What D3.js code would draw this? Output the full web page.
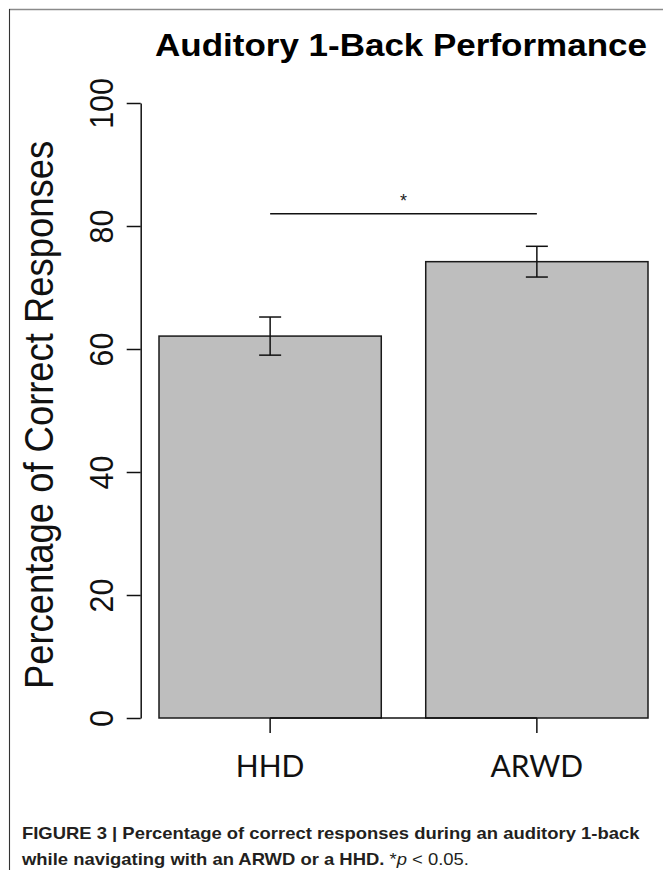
<!DOCTYPE html>
<html>
<head>
<meta charset="utf-8">
<script src="https://cdn.jsdelivr.net/npm/d3@7"></script>
<style>
  body { margin: 0; background: #fff; }
  svg { display: block; }
</style>
</head>
<body>
<div id="chart"></div>
<script>
// values
const groups = ["HHD", "ARWD"];
const means = [62.1, 74.2];
const stdErrs = [3.1, 2.5];
const yTicks = [0, 20, 40, 60, 80, 100];
const sigLevel = 82;   // height of the significance bar
const sigLabel = "*";

const width = 663, height = 870;
// R plots look slightly squashed vertically in this figure
const squash = 0.92;

let svg = d3.select("#chart").append("svg")
    .attr("width", width)
    .attr("height", height);

// frame of the figure box
svg.append("line")
    .attr("x1", 9).attr("x2", width).attr("y1", 9.5).attr("y2", 9.5)
    .attr("stroke", "#8a8a8a").attr("stroke-width", 1.3);
svg.append("line")
    .attr("x1", 9.5).attr("x2", 9.5).attr("y1", 9).attr("y2", height)
    .attr("stroke", "#333").attr("stroke-width", 1.1);

// scales
let y = d3.scaleLinear().domain([0, 100]).range([718, 103]);
let x = d3.scaleBand().domain(groups).range([159, 648])
    .paddingInner(1 / 6).paddingOuter(0);
let bw = x.bandwidth();
let cx = d => x(d) + bw / 2;

let data = groups.map((g, i) => ({ group: g, mean: means[i], se: stdErrs[i] }));

// bars
svg.append("g").selectAll("rect")
    .data(data)
    .enter().append("rect")
    .attr("x", d => x(d.group))
    .attr("y", d => y(d.mean))
    .attr("width", bw)
    .attr("height", d => y(0) - y(d.mean))
    .attr("fill", "#bebebe")
    .attr("stroke", "#1a1a1a")
    .attr("stroke-width", 1.5);

// error bars
let err = svg.append("g").attr("stroke", "#111").attr("stroke-width", 1.5);
data.forEach(d => {
    let c = cx(d.group);
    err.append("line")
        .attr("x1", c).attr("x2", c)
        .attr("y1", y(d.mean + d.se)).attr("y2", y(d.mean - d.se));
    [d.mean + d.se, d.mean - d.se].forEach(v => {
        err.append("line")
            .attr("x1", c - 11).attr("x2", c + 11)
            .attr("y1", y(v)).attr("y2", y(v));
    });
});

// significance bar + star
svg.append("line")
    .attr("x1", cx(groups[0])).attr("x2", cx(groups[1]))
    .attr("y1", y(sigLevel)).attr("y2", y(sigLevel))
    .attr("stroke", "#111").attr("stroke-width", 1.5);
svg.append("text")
    .attr("x", (cx(groups[0]) + cx(groups[1])) / 2)
    .attr("y", y(sigLevel) - 7)
    .attr("text-anchor", "middle")
    .style("font-family", "'Liberation Sans', Arial, sans-serif")
    .style("font-size", "18px")
    .attr("fill", "#222")
    .text(sigLabel);

// y axis
let yAxis = svg.append("g")
    .attr("transform", "translate(140.7,0)")
    .call(d3.axisLeft(y).tickValues(yTicks).tickSize(14).tickSizeOuter(0));
yAxis.selectAll("path, line").attr("stroke", "#111").attr("stroke-width", 1.5);
yAxis.selectAll("text")
    .attr("x", null).attr("dy", null)
    .attr("transform", `translate(-28,0) scale(1,${squash}) rotate(-90)`)
    .attr("text-anchor", "middle")
    .attr("fill", "#111")
    .style("font-family", "'Liberation Sans', Arial, sans-serif")
    .style("font-size", "33px");

// x axis: R style, line only between first and last tick
let xAxis = svg.append("g")
    .attr("transform", `translate(0,${y(0)})`);
xAxis.append("line")
    .attr("x1", cx(groups[0])).attr("x2", cx(groups[1]))
    .attr("stroke", "#111").attr("stroke-width", 1.5);
xAxis.selectAll(".tick")
    .data(groups)
    .enter().append("line")
    .attr("class", "tick")
    .attr("x1", d => cx(d)).attr("x2", d => cx(d))
    .attr("y1", 0).attr("y2", 15)
    .attr("stroke", "#111").attr("stroke-width", 1.5);
xAxis.selectAll("text")
    .data(groups)
    .enter().append("text")
    .attr("x", d => cx(d))
    .attr("y", 59)
    .attr("text-anchor", "middle")
    .attr("fill", "#111")
    .style("font-family", "Lato, 'Open Sans', sans-serif")
    .style("font-size", "30px")
    .text(d => d);

// title
svg.append("text")
    .attr("transform", `translate(401,56) scale(1,${squash})`)
    .attr("text-anchor", "middle")
    .attr("fill", "#000")
    .style("font-family", "'Liberation Sans', Arial, sans-serif")
    .style("font-weight", "bold")
    .style("font-size", "35px")
    .text("Auditory 1-Back Performance");

// y title
svg.append("text")
    .attr("transform", `translate(53,415) scale(1,0.91) rotate(-90)`)
    .attr("text-anchor", "middle")
    .attr("fill", "#111")
    .style("font-family", "'Liberation Sans', Arial, sans-serif")
    .style("font-size", "40px")
    .text("Percentage of Correct Responses");

// caption
let capFont = "'Liberation Sans', Arial, sans-serif";
let cap = svg.append("g").attr("fill", "#231f20")
    .style("font-family", capFont).style("font-size", "17px");
let line1 = cap.append("text")
    .attr("x", 0).attr("y", 0)
    .style("font-weight", "bold")
    .text("FIGURE 3 | Percentage of correct responses during an auditory 1-back");
let line2 = cap.append("text").attr("x", 0).attr("y", 26);
line2.append("tspan").style("font-weight", "bold")
    .text("while navigating with an ARWD or a HHD.");
line2.append("tspan").text(" *");
line2.append("tspan").style("font-style", "italic").text("p");
line2.append("tspan").text(" < 0.05.");
let sx = 618 / line1.node().getComputedTextLength();
cap.attr("transform", `translate(22,839) scale(${sx},1)`);
</script>
</body>
</html>
